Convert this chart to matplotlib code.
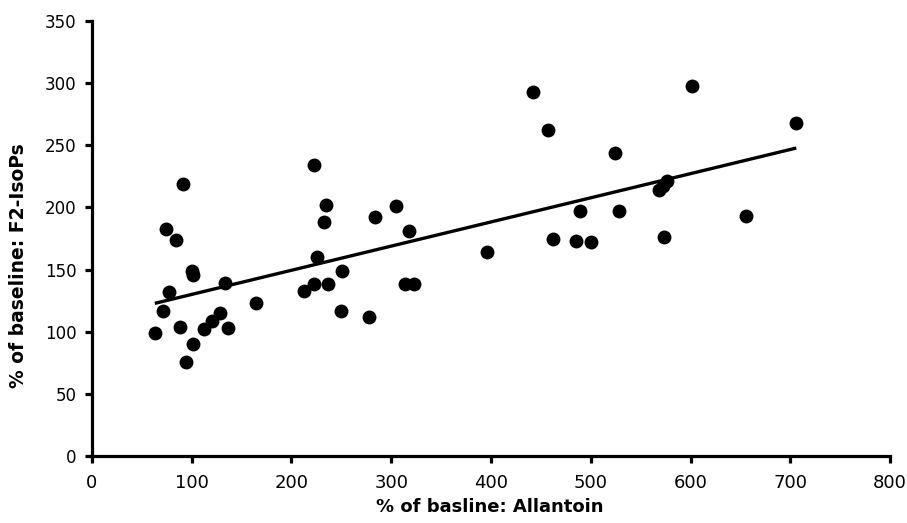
import matplotlib
matplotlib.use("Agg")
import matplotlib.pyplot as plt
import numpy as np

allantoin = [63, 71, 74, 77, 84, 88, 91, 94, 100, 101, 101, 112, 120, 128, 133, 136,
             164, 213, 223, 223, 226, 233, 235, 237, 250, 251, 278, 284, 305, 314, 318, 323,
             396, 442, 457, 462, 485, 489, 500, 524, 528, 568, 572, 576, 573, 601, 656, 706]
isops = [99, 117, 183, 132, 174, 104, 219, 76, 149, 146, 90, 102, 109, 115, 139, 103,
         123, 133, 234, 138, 160, 188, 202, 138, 117, 149, 112, 192, 201, 138, 181, 138,
         164, 293, 262, 175, 173, 197, 172, 244, 197, 214, 217, 221, 176, 298, 193, 268]

x_ticks = [0, 100, 200, 300, 400, 500, 600, 700, 800]
y_ticks = [0, 50, 100, 150, 200, 250, 300, 350]

x = np.array(allantoin, dtype=float)
y = np.array(isops, dtype=float)
slope, intercept = np.polyfit(x, y, 1)

fig = plt.figure(figsize=(9.07, 5.23), dpi=100)
ax = fig.add_axes([0.1014, 0.1281, 0.8799, 0.8317])

ax.scatter(x, y, s=100, color="black", zorder=3, linewidths=0, clip_on=False)
xl = np.array([x.min(), x.max()])
ax.plot(xl, slope * xl + intercept, color="black", lw=2.4, zorder=2, solid_capstyle="butt")

ax.set_xlim(0, 800)
ax.set_ylim(0, 350)
ax.set_xticks(x_ticks)
ax.set_yticks(y_ticks)
for s in ["top", "right"]:
    ax.spines[s].set_visible(False)
for s in ["left", "bottom"]:
    ax.spines[s].set_linewidth(2.3)
    ax.spines[s].set_capstyle("projecting")
ax.tick_params(axis="both", direction="out", length=5, width=2.3)
ax.tick_params(axis="x", labelsize=13, pad=8)
ax.tick_params(axis="y", labelsize=12, pad=6)

ax.set_xlabel("% of basline: Allantoin", fontsize=13, fontweight="bold")
ax.set_ylabel("% of baseline: F2-IsoPs", fontsize=13.5, fontweight="bold")
ax.xaxis.set_label_coords(0.499, -0.117)
ax.xaxis.label.set_va("center")
ax.yaxis.set_label_coords((19 - 92) / 798, 0.437)
ax.yaxis.label.set_va("center")
ax.yaxis.label.set_ha("center")

fig.savefig("out.png", dpi=100)
